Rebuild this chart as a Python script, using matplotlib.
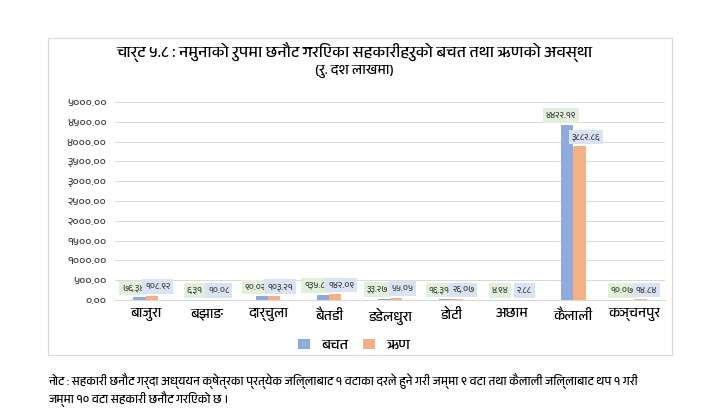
import matplotlib.pyplot as plt
import numpy as np
from matplotlib import font_manager
from matplotlib.patches import Rectangle

districts = ["बाजुरा", "बझाङ", "दार्चुला", "बैतडी", "डडेलधुरा", "डोटी", "अछाम", "कैलाली", "कञ्चनपुर"]
savings = [76.34, 6.31, 90.02, 135.88, 33.27, 16.31, 4.94, 4422.19, 10.07]
loans = [108.92, 10.08, 103.21, 142.09, 55.05, 26.07, 2.88, 3882.86, 14.84]
yticks = [0, 500, 1000, 1500, 2000, 2500, 3000, 3500, 4000, 4500, 5000]

DEV = str.maketrans("0123456789", "०१२३४५६७८९")


def dev(v):
    return f"{v:.2f}".translate(DEV)


# pick a font with Devanagari glyphs if one exists
fams = []
for f in font_manager.fontManager.ttflist:
    if "Devanagari" in f.name or "Mukta" in f.name or "Lohit" in f.name:
        fams.append(f.name)
plt.rcParams["font.family"] = fams[:1] + ["Noto Sans", "DejaVu Sans"]

fig = plt.figure(figsize=(7.09, 4.12), dpi=100)
fig.patches.append(Rectangle((48 / 709, 1 - 355 / 412), 624 / 709, 317 / 412,
                             transform=fig.transFigure, fill=False,
                             edgecolor="#d9d9d9", linewidth=0.8))
ax = fig.add_axes([115 / 709, 1 - 300 / 412, 550 / 709, 198 / 412])

x = np.arange(len(districts))
w = 0.2
ax.bar(x - w / 2, savings, w, color="#8faadc", label="बचत", zorder=2)
ax.bar(x + w / 2, loans, w, color="#f4b183", label="ऋण", zorder=2)

for i in range(len(x)):
    ax.text(x[i] - 0.2, savings[i] + 120, dev(savings[i]), ha="center", va="bottom",
            fontsize=6.5, color="#404040",
            bbox=dict(boxstyle="square,pad=0.3", fc="#e2efda", ec="none"))
    ax.text(x[i] + 0.2, loans[i] + 120, dev(loans[i]), ha="center", va="bottom",
            fontsize=6.5, color="#404040",
            bbox=dict(boxstyle="square,pad=0.3", fc="#dae3f3", ec="none"))

ax.set_ylim(0, 5000)
ax.set_xlim(-0.5, len(x) - 0.5)
ax.set_yticks(yticks)
ax.set_yticklabels([dev(v) for v in yticks], fontsize=8, color="#404040")
ax.set_xticks(x)
ax.set_xticklabels(districts, fontsize=10)
ax.tick_params(length=0, pad=6)
ax.grid(axis="y", color="#d9d9d9", linewidth=0.7, zorder=0)
for s in ["top", "right", "left"]:
    ax.spines[s].set_visible(False)
ax.spines["bottom"].set_color("#d9d9d9")

fig.text(0.5, 1 - 52 / 412, "चार्ट ५.८ : नमुनाको रुपमा छनौट गरिएका सहकारीहरुको बचत तथा ऋणको अवस्था",
         ha="center", va="center", fontsize=11.5, fontweight="bold")
fig.text(0.5, 1 - 71 / 412, "(रु. दश लाखमा)", ha="center", va="center",
         fontsize=10, fontweight="bold")
fig.legend(loc="center", bbox_to_anchor=(0.5, 1 - 345 / 412), ncol=2, frameon=False,
           handlelength=0.8, columnspacing=1.0, prop={"weight": "bold", "size": 10.5})
fig.text(48 / 709, 1 - 381 / 412,
         "नोट : सहकारी छनौट गर्दा अध्ययन क्षेत्रका प्रत्येक जिल्लाबाट १ वटाका दरले हुने गरी जम्मा ९ वटा तथा कैलाली जिल्लाबाट थप १ गरी",
         fontsize=8.5, style="italic", va="center")
fig.text(48 / 709, 1 - 399 / 412, "जम्मा १० वटा सहकारी छनौट गरिएको छ ।",
         fontsize=8.5, style="italic", va="center")

fig.savefig("out.png", dpi=100)
